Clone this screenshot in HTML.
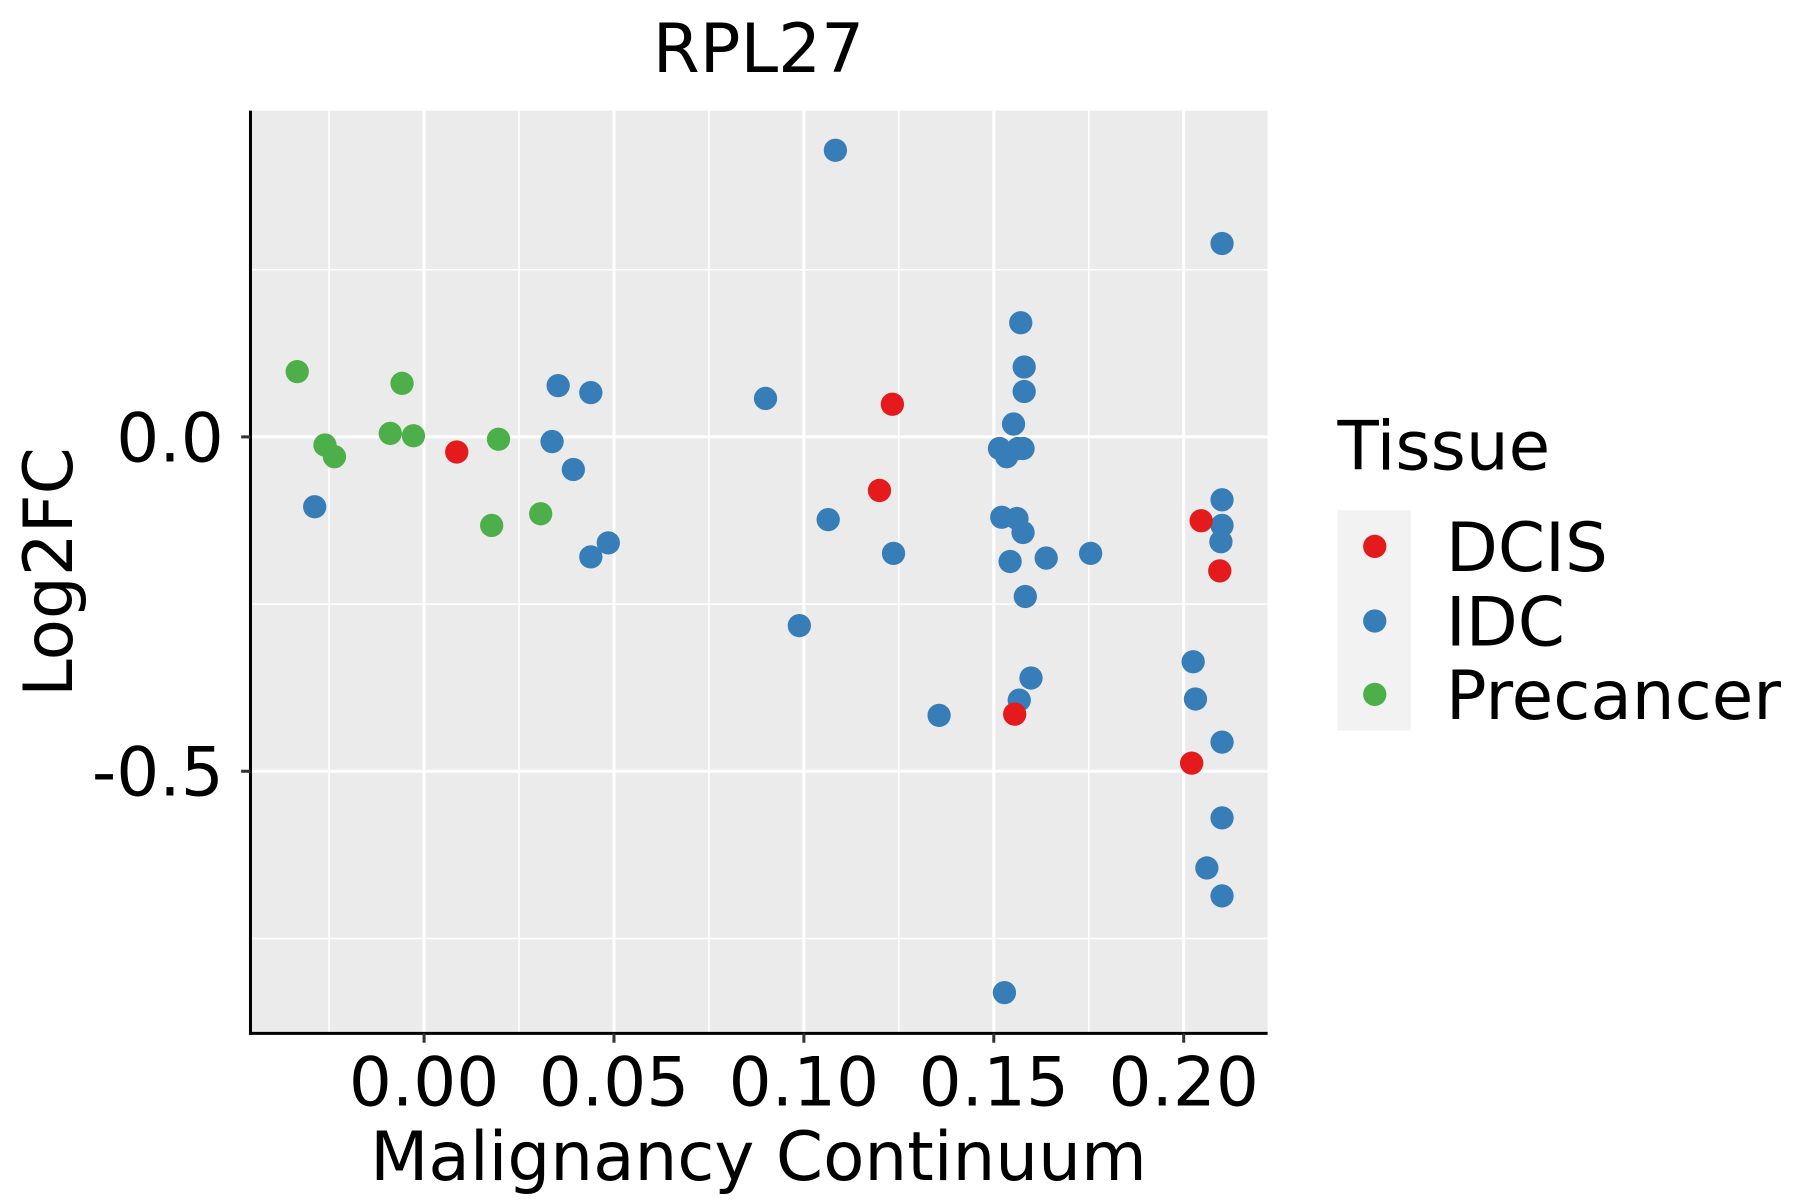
<!DOCTYPE html>
<html><head><meta charset="utf-8"><style>
html,body{margin:0;padding:0;background:#fff;}
svg{display:block;font-family:"DejaVu Sans","Liberation Sans",sans-serif;}
</style></head><body>
<svg id="chart" width="1800" height="1200" viewBox="0 0 1545 1030" xmlns="http://www.w3.org/2000/svg">
<rect x="0" y="0" width="1545" height="1030" fill="#ffffff"/>
<rect x="215" y="95" width="873" height="792" fill="#EBEBEB"/>
<g id="grid"></g>
<g id="points"></g>
<g id="axes"></g>
<text x="651" y="62" font-size="58" text-anchor="middle" fill="#000">RPL27</text>
<text x="651" y="1013" font-size="58" text-anchor="middle" fill="#000">Malignancy Continuum</text>
<text x="0" y="0" font-size="58" text-anchor="middle" fill="#000" transform="translate(62,491) rotate(-90)">Log2FC</text>
<g>
<text x="1148" y="403" font-size="58" fill="#000">Tissue</text>
<rect x="1148" y="438" width="63" height="189" fill="#F2F2F2"/>
<circle cx="1180" cy="469" r="10" fill="#E41A1C"/>
<circle cx="1180" cy="533" r="10" fill="#377EB8"/>
<circle cx="1180" cy="596" r="10" fill="#4DAF4A"/>
<text x="1241" y="490" font-size="58" fill="#000">DCIS</text>
<text x="1241" y="554" font-size="58" fill="#000">IDC</text>
<text x="1241" y="617" font-size="58" fill="#000">Precancer</text>
</g>
</svg>
<script>
const xTicks = [0.00, 0.05, 0.10, 0.15, 0.20];
const xTickLabels = ["0.00", "0.05", "0.10", "0.15", "0.20"];
const xMinor = [-0.025, 0.025, 0.075, 0.125, 0.175];
const yTicks = [0.0, -0.5];
const yTickLabels = ["0.0", "-0.5"];
const yMinor = [0.25, -0.25, -0.75];
const greenX = [-0.0334, -0.0261, -0.0236, -0.0089, -0.0058, -0.0028, 0.0196, 0.0178, 0.0307];
const greenY = [0.0976, -0.0122, -0.0296, 0.0052, 0.0801, 0.0017, -0.0035, -0.1324, -0.115];
const blueX = [-0.0288, 0.0337, 0.0353, 0.0393, 0.0439, 0.0439, 0.0485, 0.0899, 0.0988, 0.1064, 0.1083, 0.1236, 0.1356, 0.1515, 0.1521, 0.1528, 0.1534, 0.1543, 0.1552, 0.1561, 0.1564, 0.1567, 0.1571, 0.1577, 0.1577, 0.158, 0.158, 0.1583, 0.1598, 0.1638, 0.1755, 0.2025, 0.2031, 0.2061, 0.2101, 0.2101, 0.2101, 0.2098, 0.2101, 0.2101, 0.2101];
const blueY = [-0.1045, -0.007, 0.0767, -0.0488, 0.0662, -0.1794, -0.1585, 0.0575, -0.2822, -0.1237, 0.4286, -0.1742, -0.4164, -0.0174, -0.1202, -0.831, -0.0296, -0.1864, 0.0192, -0.122, -0.0174, -0.3937, 0.1707, -0.1429, -0.0174, 0.1045, 0.0679, -0.2387, -0.3606, -0.1812, -0.1742, -0.3362, -0.392, -0.6446, 0.2892, -0.0941, -0.1324, -0.1568, -0.4564, -0.5697, -0.6864];
const redX = [0.0086, 0.1233, 0.1199, 0.1555, 0.2021, 0.2046, 0.2095];
const redY = [-0.0226, 0.0488, -0.0801, -0.4146, -0.4878, -0.1254, -0.2003];

const NS = "http://www.w3.org/2000/svg";
const PL = 215, PR = 1088, PT = 95, PB = 887;
function sx(v){ return 364 + v * 3260; }
function sy(v){ return 375 - v * 574; }
function mk(tag, attrs, parent){
  const e = document.createElementNS(NS, tag);
  for (const k in attrs) e.setAttribute(k, attrs[k]);
  parent.appendChild(e);
  return e;
}
const grid = document.getElementById('grid');
xMinor.forEach(v => {
  const l = mk('line', {x1:sx(v), x2:sx(v), y1:PT, y2:PB, stroke:'#fff', 'stroke-width':1.3}, grid);
  
  
});
yMinor.forEach(v => {
  const l = mk('line', {x1:PL, x2:PR, y1:sy(v), y2:sy(v), stroke:'#fff', 'stroke-width':1.3}, grid);
  
  
});
xTicks.forEach(v => {
  const l = mk('line', {x1:sx(v), x2:sx(v), y1:PT, y2:PB, stroke:'#fff', 'stroke-width':2.6}, grid);
  
  
});
yTicks.forEach(v => {
  const l = mk('line', {x1:PL, x2:PR, y1:sy(v), y2:sy(v), stroke:'#fff', 'stroke-width':2.6}, grid);
  
  
});
const pts = document.getElementById('points');
function drawSeries(xs, ys, color, name){
  xs.forEach((x, i) => {
    const c = mk('circle', {cx:sx(x), cy:sy(ys[i]), r:10, fill:color}, pts);
    
    
  });
}
drawSeries(greenX, greenY, '#4DAF4A', 'point-precancer');
drawSeries(blueX, blueY, '#377EB8', 'point-idc');
drawSeries(redX, redY, '#E41A1C', 'point-dcis');
const axes = document.getElementById('axes');
const ya = mk('line', {x1:PL, x2:PL, y1:PT, y2:PB+1.3, stroke:'#000', 'stroke-width':2.6}, axes);


const xa = mk('line', {x1:PL-1.3, x2:PR, y1:PB, y2:PB, stroke:'#000', 'stroke-width':2.6}, axes);


xTicks.forEach((v, i) => {
  const t = mk('line', {x1:sx(v), x2:sx(v), y1:PB, y2:PB+8, stroke:'#333', 'stroke-width':2.6}, axes);
  
  
  const tx = mk('text', {x:sx(v), y:949, 'font-size':58, 'text-anchor':'middle', fill:'#000'}, axes);
  tx.textContent = xTickLabels[i];
  
  
});
yTicks.forEach((v, i) => {
  const t = mk('line', {x1:PL-8, x2:PL, y1:sy(v), y2:sy(v), stroke:'#333', 'stroke-width':2.6}, axes);
  
  
  const tx = mk('text', {x:192, y:sy(v)+21, 'font-size':58, 'text-anchor':'end', fill:'#000'}, axes);
  tx.textContent = yTickLabels[i];
  
  
});
</script>
</body></html>
